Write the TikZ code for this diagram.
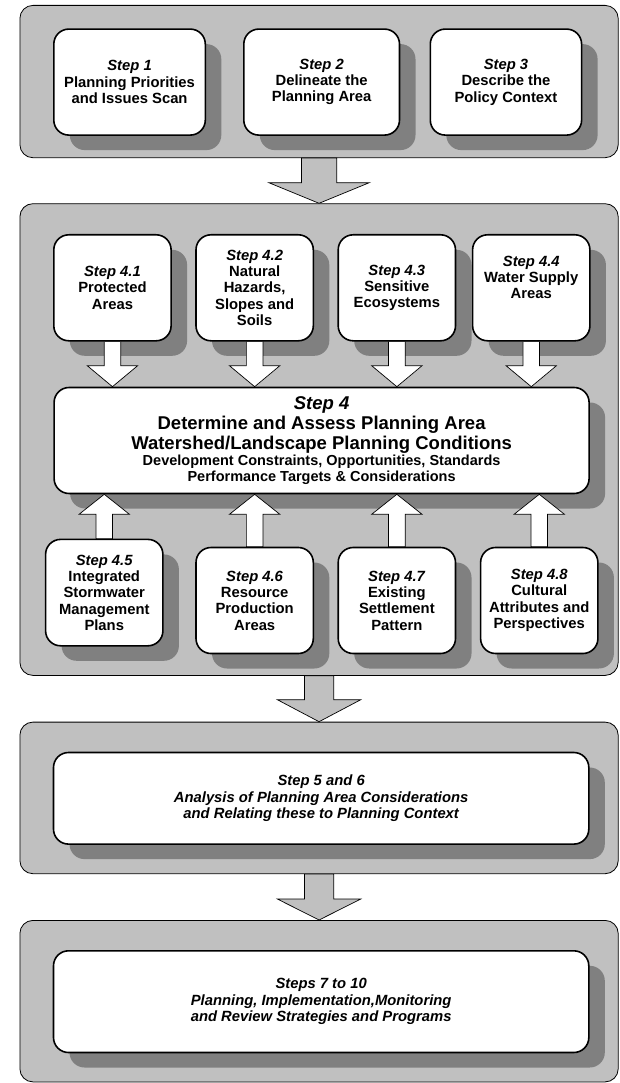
\documentclass[tikz,border=0pt]{standalone}
\usepackage{fontspec}
\setmainfont{Liberation Sans}
\usetikzlibrary{calc,shadows}

\definecolor{panelgray}{HTML}{C0C0C0}
\definecolor{shadowgray}{HTML}{808080}

% Block arrow between two points:
% #1 style, #2 start, #3 tip, #4 shaft half-width, #5 head half-width, #6 head length
\newcommand\blockarrow[6]{%
  \coordinate (ba-h) at ($(#3)!#6!(#2)$);
  \draw[#1] ($(#2)!#4!90:(#3)$) -- ($(ba-h)!#4!90:(#3)$) -- ($(ba-h)!#5!90:(#3)$)
    -- (#3) -- ($(ba-h)!#5!-90:(#3)$) -- ($(ba-h)!#4!-90:(#3)$)
    -- ($(#2)!#4!-90:(#3)$) -- cycle;
}

\tikzset{
  panel/.style={draw=black, line width=0.8pt, fill=panelgray, rounded corners=13pt,
    anchor=north west, inner sep=0pt, minimum width=598.3pt},
  stepbox/.style={draw=black, line width=1.6pt, fill=white, rounded corners=15pt,
    anchor=north west, inner sep=0pt, align=center,
    font=\fontsize{14.8pt}{16.3pt}\selectfont\bfseries,
    drop shadow={shadow xshift=16pt, shadow yshift=-15pt, fill=shadowgray, opacity=1}},
  smallbox/.style={stepbox, minimum width=117.3pt, minimum height=106pt},
  widebox/.style={stepbox, minimum width=535.3pt,
    font=\fontsize{14.8pt}{16.3pt}\selectfont\bfseries\itshape},
  grayarrow/.style={draw=black, line width=0.7pt, fill=panelgray, line join=miter},
  whitearrow/.style={draw=black, line width=0.7pt, fill=white, line join=miter},
}

\begin{document}
\begin{tikzpicture}[x=1pt, y=-1pt]
\useasboundingbox (0,0) rectangle (619,1083);

% Panels
\node[panel, minimum height=152.3pt] (p1) at (19.5,5) {};
\node[panel, minimum height=471.7pt] (p2) at (19.5,203.3) {};
\node[panel, minimum height=151.6pt] (p3) at (19.5,721.7) {};
\node[panel, minimum height=161.5pt] (p4) at (19.5,920) {};

% Arrows between panels
\blockarrow{grayarrow}{p1.south}{p2.north}{17.6pt}{50.2pt}{20.6pt}
\blockarrow{grayarrow}{p2.south}{p3.north}{14.6pt}{41.7pt}{22pt}
\blockarrow{grayarrow}{p3.south}{p4.north}{14.6pt}{41.7pt}{21pt}

% Steps 1 to 3
\node[stepbox, minimum width=151.5pt, minimum height=106pt] (b1) at (53,28.3)
  {\textit{Step 1}\\Planning Priorities\\and Issues Scan};
\node[stepbox, minimum width=155.7pt, minimum height=106pt] (b2) at (243,28.3)
  {\textit{Step 2}\\Delineate the\\Planning Area};
\node[stepbox, minimum width=151.3pt, minimum height=106pt] (b3) at (429.5,28.3)
  {\textit{Step 3}\\Describe the\\Policy Context};

% Steps 4.1 to 4.4
\node[smallbox] (b41) at (53,234) {\textit{Step 4.1}\\Protected\\Areas};
\node[smallbox] (b42) at (195.2,234) {\textit{Step 4.2}\\Natural\\Hazards,\\Slopes and\\Soils};
\node[smallbox] (b43) at (337.4,234) {\textit{Step 4.3}\\Sensitive\\Ecosystems};
\node[smallbox] (b44) at (471.8,234) {\textit{Step 4.4}\\Water Supply\\Areas\\\strut};

% Step 4
\node[stepbox, minimum width=535pt, minimum height=106pt] (b4) at (53.3,386.7)
  {{\fontsize{18.5pt}{20pt}\selectfont\itshape Step 4}\\[1.5pt]
   {\fontsize{18.5pt}{20pt}\selectfont Determine and Assess Planning Area}\\[1.5pt]
   {\fontsize{18.5pt}{20pt}\selectfont Watershed/Landscape Planning Conditions}\\[0pt]
   {\fontsize{14.5pt}{15.6pt}\selectfont Development Constraints, Opportunities, Standards}\\[-0.5pt]
   {\fontsize{14.5pt}{15.6pt}\selectfont Performance Targets \& Considerations}};

% Steps 4.5 to 4.8
\node[smallbox, minimum height=106.4pt] (b45) at (44.8,538.6)
  {\textit{Step 4.5}\\Integrated\\Stormwater\\Management\\Plans};
\node[smallbox] (b46) at (195.2,546.7) {\textit{Step 4.6}\\Resource\\Production\\Areas};
\node[smallbox] (b47) at (337.4,546.7) {\textit{Step 4.7}\\Existing\\Settlement\\Pattern};
\node[smallbox] (b48) at (479.8,546.7) {\textit{Step 4.8}\\Cultural\\Attributes and\\Perspectives};

% Steps 5 to 10
\node[widebox, minimum height=91.6pt] (b56) at (52.7,751.7)
  {Step 5 and 6\\Analysis of Planning Area Considerations\\and Relating these to Planning Context};
\node[widebox, minimum height=101.7pt] (b710) at (52.7,950)
  {Steps 7 to 10\\Planning, Implementation,Monitoring\\and Review Strategies and Programs};

% Inputs into Step 4
\foreach \b in {b41,b42,b43,b44}{
  \blockarrow{whitearrow}{\b.south}{\b.south |- b4.north}{8.3pt}{25.2pt}{21pt}
}
\foreach \b in {b45,b46,b47,b48}{
  \blockarrow{whitearrow}{\b.north}{\b.north |- b4.south}{8.3pt}{25.2pt}{20pt}
}
\end{tikzpicture}
\end{document}
